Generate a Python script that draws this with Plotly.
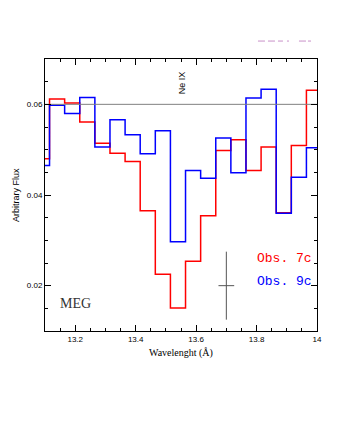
import plotly.graph_objects as go

# bin centres (Angstrom) and fluxes
wave = [13.09, 13.14, 13.19, 13.24, 13.29, 13.34, 13.39, 13.44, 13.49, 13.54,
        13.59, 13.64, 13.69, 13.74, 13.79, 13.84, 13.89, 13.94, 13.99]
obs7c = [0.0480, 0.0612, 0.0603, 0.0561, 0.0514, 0.0492, 0.0474, 0.0365, 0.0225, 0.0151,
         0.0254, 0.0354, 0.0498, 0.0522, 0.0454, 0.0506, 0.0361, 0.0509, 0.0631]
obs9c = [0.0465, 0.0598, 0.0580, 0.0615, 0.0506, 0.0566, 0.0533, 0.0491, 0.0542, 0.0297,
         0.0454, 0.0437, 0.0526, 0.0449, 0.0614, 0.0633, 0.0360, 0.0439, 0.0504]
binw = 0.05
continuum = 0.06
# typical error bar
err_x, err_y, err_dx, err_dy = 13.70, 0.020, 0.026, 0.0075

edges = [w - binw / 2 for w in wave] + [wave[-1] + binw / 2]

fig = go.Figure()
for vals, col in [(obs7c, "#ff0000"), (obs9c, "#0000ff")]:
    fig.add_trace(go.Scatter(x=edges, y=vals + [vals[-1]], mode="lines",
                             line=dict(color=col, width=1.5, shape="hv"),
                             showlegend=False))

fig.add_trace(go.Scatter(x=[13.1, 14.0], y=[continuum, continuum], mode="lines",
                         line=dict(color="#808080", width=1), showlegend=False))

# error cross
fig.add_trace(go.Scatter(x=[err_x, err_x, None, err_x - err_dx, err_x + err_dx],
                         y=[err_y - err_dy, err_y + err_dy, None, err_y, err_y],
                         mode="lines", line=dict(color="#555555", width=1),
                         showlegend=False))

fig.add_annotation(x=13.552, y=0.0648, text="Ne IX", textangle=-90, showarrow=False,
                   font=dict(family="Liberation Sans", size=9, color="black"))
fig.add_annotation(x=13.891, y=0.0260, text="Obs. 7c", showarrow=False,
                   font=dict(family="Liberation Mono", size=13, color="#ff0000"))
fig.add_annotation(x=13.891, y=0.0210, text="Obs. 9c", showarrow=False,
                   font=dict(family="Liberation Mono", size=13, color="#0000ff"))
fig.add_annotation(x=13.2, y=0.016, text="MEG", showarrow=False,
                   font=dict(family="Liberation Serif", size=14, color="#333333"))

fig.add_annotation(xref="paper", yref="paper", x=0.5, y=0, yshift=-22,
                   xanchor="center", yanchor="middle",
                   text="Wavelenght (Å)", showarrow=False,
                   font=dict(family="Liberation Serif", size=10, color="black"))
fig.add_annotation(xref="paper", yref="paper", x=0, y=0.5, xshift=-29,
                   xanchor="center", yanchor="middle",
                   text="Arbitrary Flux", textangle=-90, showarrow=False,
                   font=dict(family="Liberation Sans", size=9, color="black"))

# faint dashed mark above the frame
fig.add_shape(type="line", xref="paper", yref="paper", x0=0.783, x1=0.978,
              y0=1.066, y1=1.066,
              line=dict(color="#c890c8", width=1, dash="7px,3px,7px,3px,5px,4px,2px,10px,7px,2px,7px"))

axis = dict(showline=True, linecolor="black", linewidth=1, mirror="ticks",
            ticks="inside", ticklen=6, tickcolor="black", showgrid=False,
            zeroline=False, tickfont=dict(family="Liberation Sans", size=8, color="black"))
fig.update_xaxes(range=[13.1, 14.0], dtick=0.2, tick0=13.2,
                 minor=dict(dtick=0.05, tick0=13.1, ticks="inside", ticklen=3, tickcolor="black"),
                 **axis)
fig.update_yaxes(range=[0.01, 0.07], dtick=0.02, tick0=0.02,
                 minor=dict(dtick=0.005, tick0=0.01, ticks="inside", ticklen=3, tickcolor="black"),
                 **axis)

# page body adds an 8px offset, so margins are set against that
fig.update_layout(width=346, height=448, margin=dict(l=37, r=37, t=51, b=125),
                  plot_bgcolor="white", paper_bgcolor="white")

fig.write_html("out.html")
